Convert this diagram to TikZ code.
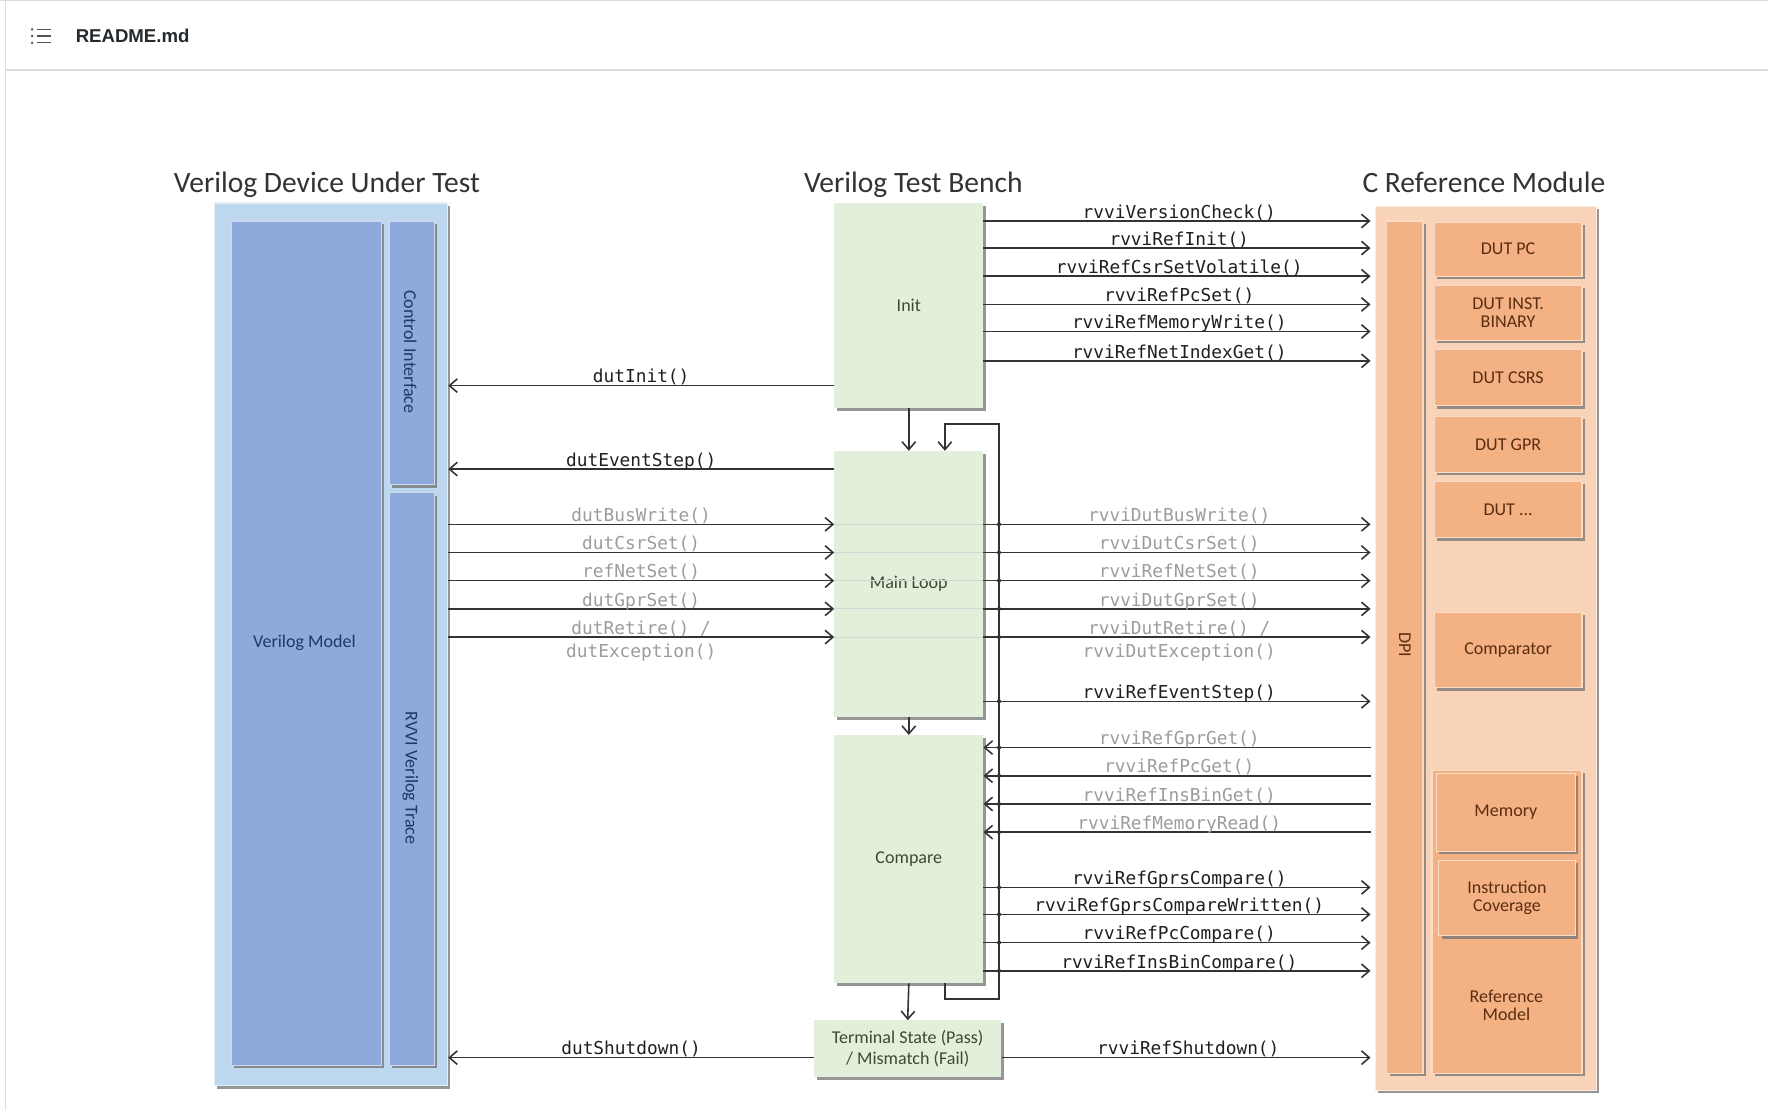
\documentclass[tikz,border=0pt]{standalone}
\usepackage{fontspec}
\setmainfont{Carlito}
\newfontfamily\fnmono{DejaVu Sans Mono}
\newfontfamily\uisans{Liberation Sans}
\usetikzlibrary{arrows.meta,shadows}

\definecolor{dutOuter}{HTML}{BDD7EE}
\definecolor{dutInner}{HTML}{8EA9DB}
\definecolor{dutText}{HTML}{1F3864}
\definecolor{tbFill}{HTML}{E2EFDA}
\definecolor{tbText}{HTML}{3B4A30}
\definecolor{refOuter}{HTML}{F9D3B7}
\definecolor{refInner}{HTML}{F4B183}
\definecolor{refText}{HTML}{5A2E10}
\definecolor{lineCol}{HTML}{333333}
\definecolor{grayLbl}{HTML}{9C9C9C}
\definecolor{titleCol}{HTML}{333333}
\definecolor{chrome}{HTML}{DADDE1}
\definecolor{hdrText}{HTML}{24292F}

\newcommand\bxfont{\fontsize{16}{19}\selectfont}
\newcommand\ttlfont{\fontsize{26.2}{30}\selectfont}
\newcommand\fnfont{\fnmono\fontsize{15.8}{18}\selectfont}
\newcommand\hdrfont{\uisans\bfseries\fontsize{16.5}{19}\selectfont}

\tikzset{
  shade box/.style={drop shadow={shadow xshift=2.5pt, shadow yshift=-2.5pt, fill=black!55, opacity=.75}},
  dutbox/.style={shade box, draw=white!55!dutInner, line width=1pt, fill=dutInner, inner sep=0pt},
  tbbox/.style={shade box, draw=none, fill=tbFill, inner sep=0pt, text=tbText, font=\bxfont, align=center},
  refbox/.style={shade box, draw=white!55!refInner, line width=1pt, fill=refInner, inner sep=0pt, text=refText, font=\bxfont, align=center},
  dutlbl/.style={text=dutText, font=\bxfont, inner sep=0pt},
  reflbl/.style={text=refText, font=\bxfont, inner sep=0pt, align=center},
  title/.style={text=titleCol, font=\ttlfont, inner sep=0pt, anchor=base},
  arr/.style={draw=lineCol, line width=1.4pt, -{Straight Barb[length=7pt,width=12pt]}},
  faint/.style={draw=black!16, line width=1pt},
  lbl/.style={font=\fnfont, inner sep=0pt, anchor=base, yshift=2.5pt, text=black!88},
  glbl/.style={lbl, text=grayLbl},
  joint/.style={fill=lineCol}
}

\begin{document}
\begin{tikzpicture}[x=1pt,y=-1pt]
\useasboundingbox (0,0) rectangle (1568,984.4);
\fill[white] (0,0) rectangle (1568,984.4);

% page header
\draw[chrome, line width=1pt] (4.5,0) -- (4.5,984.4);
\draw[chrome, line width=1pt] (0,0.8) -- (1568,0.8);
\draw[chrome, line width=1.2pt] (4.5,62) -- (1568,62);
\foreach \yy in {26,32,38} {
  \fill[hdrText!80] (28.5,\yy) circle (1.2);
  \draw[hdrText!80, line width=1.1pt] (33,\yy) -- (45,\yy);
}
\node[anchor=west, font=\hdrfont, text=hdrText, inner sep=0pt] (readme) at (67,32) {README.md};

% column titles
\node[title] (tdut) at (290,170.5) {Verilog Device Under Test};
\node[title] (ttb)  at (810,170.5) {Verilog Test Bench};
\node[title] (tref) at (1316,170.5) {C Reference Module};

% Verilog device under test
\node[shade box, draw=white!60!dutOuter, line width=1pt, fill=dutOuter, minimum width=207pt, minimum height=783pt, inner sep=0pt] (dut) at (293.5,571.5) {};
\node[dutbox, minimum width=133pt, minimum height=749pt] (vmodel) at (271.5,570.5) {};
\node[dutlbl] (vmodellbl) at (270,570) {Verilog Model};
\node[dutbox, minimum width=40pt, minimum height=234pt] (ctrl) at (365,313) {};
\node[dutlbl, rotate=-90] (ctrllbl) at (364,312) {Control Interface};
\node[dutbox, minimum width=40pt, minimum height=508pt] (trace) at (365,691) {};
\node[dutlbl, rotate=-90] (tracelbl) at (364,690) {RVVI Verilog Trace};

% test bench states
\node[tbbox, minimum width=132pt, minimum height=182pt] (init) at (806,271) {Init};
\node[tbbox, minimum width=132pt, minimum height=236pt] (mainloop) at (806,518) {Main Loop};
\node[tbbox, minimum width=132pt, minimum height=220pt] (compare) at (806,762) {Compare};
\node[tbbox, minimum width=166pt, minimum height=50pt] (term) at (805,930) {Terminal State (Pass)\\[-1pt]/ Mismatch (Fail)};

% C reference module
\node[shade box, draw=white!60!refOuter, line width=1pt, fill=refOuter, minimum width=196pt, minimum height=784pt, inner sep=0pt] (cref) at (1318,575) {};
\node[refbox, minimum width=32pt, minimum height=756pt] (dpi) at (1246,574) {};
\node[reflbl, rotate=-90] (dpilbl) at (1246,572) {DPI};
\node[refbox, minimum width=131pt, minimum height=48pt] (dutpc) at (1337.5,221) {DUT PC};
\node[refbox, minimum width=131pt, minimum height=49pt] (dutinst) at (1337.5,277.5) {DUT INST.\\[-3pt]BINARY};
\node[refbox, minimum width=131pt, minimum height=50pt] (dutcsrs) at (1337.5,335) {DUT CSRS};
\node[refbox, minimum width=131pt, minimum height=50pt] (dutgpr) at (1337.5,394) {DUT GPR};
\node[refbox, minimum width=131pt, minimum height=50pt] (dutetc) at (1337.5,452) {DUT ...};
\node[refbox, minimum width=131pt, minimum height=67pt] (comparator) at (1337.5,576.5) {Comparator};
\node[refbox, minimum width=133pt, minimum height=269pt] (refmodel) at (1336.5,817.5) {};
\node[reflbl] (refmodellbl) at (1336,892) {Reference\\[-3pt]Model};
\node[refbox, minimum width=123pt, minimum height=69pt] (memory) at (1335.5,720.5) {Memory};
\node[refbox, minimum width=121pt, minimum height=67pt] (icov) at (1336.5,796.5) {Instruction\\[-3pt]Coverage};

% state flow and main loop return path
\coordinate (loopB) at (886,886);
\coordinate (loopT) at (886,376);
\draw[arr] (init.south) -- (mainloop.north);
\draw[arr] (mainloop.south) -- (compare.north);
\draw[arr] (compare.south) -- (term.north);
\draw[arr] (compare.south -| 838,0) |- (loopB) -- (loopT) -| (mainloop.north -| 838,0);

% init calls
\draw[arr, shorten >=4pt] (init.east |- 0,196) -- (cref.west |- 0,196) node[midway, lbl] {rvviVersionCheck()};
\draw[arr, shorten >=4pt] (init.east |- 0,220) -- (cref.west |- 0,220) node[midway, lbl] {rvviRefInit()};
\draw[arr, shorten >=4pt] (init.east |- 0,245) -- (cref.west |- 0,245) node[midway, lbl] {rvviRefCsrSetVolatile()};
\draw[arr, shorten >=4pt] (init.east |- 0,270) -- (cref.west |- 0,270) node[midway, lbl] {rvviRefPcSet()};
\draw[arr, shorten >=4pt] (init.east |- 0,294) -- (cref.west |- 0,294) node[midway, lbl] {rvviRefMemoryWrite()};
\draw[arr, shorten >=4pt] (init.east |- 0,320) -- (cref.west |- 0,320) node[midway, lbl] {rvviRefNetIndexGet()};
\draw[arr] (init.west |- 0,342) -- (dut.east |- 0,342) node[midway, lbl] {dutInit()};

% main loop calls
\draw[arr] (mainloop.west |- 0,416) -- (dut.east |- 0,416) node[midway, lbl] {dutEventStep()};
\foreach \yy/\lt/\rt in {465/dutBusWrite()/rvviDutBusWrite(), 490/dutCsrSet()/rvviDutCsrSet(), 515/refNetSet()/rvviRefNetSet(), 540/dutGprSet()/rvviDutGprSet()} {
  \draw[arr] (dut.east |- 0,\yy) -- (mainloop.west |- 0,\yy) node[midway, glbl] {\lt};
  \draw[faint] (mainloop.west |- 0,\yy) -- (mainloop.east |- 0,\yy);
  \draw[arr, shorten >=4pt] (mainloop.east |- 0,\yy) -- (cref.west |- 0,\yy) node[midway, glbl] {\rt};
  \fill[joint] (loopT |- 0,\yy) circle (1.8pt);
}
\draw[arr] (dut.east |- 0,565) -- (mainloop.west |- 0,565) node[midway, glbl] (retl) {dutRetire() /};
\node[glbl, yshift=-23pt] (excl) at (retl.base) {dutException()};
\draw[faint] (mainloop.west |- 0,565) -- (mainloop.east |- 0,565);
\draw[arr, shorten >=4pt] (mainloop.east |- 0,565) -- (cref.west |- 0,565) node[midway, glbl] (retr) {rvviDutRetire() /};
\node[glbl, yshift=-23pt] (excr) at (retr.base) {rvviDutException()};
\fill[joint] (loopT |- 0,565) circle (1.8pt);
\draw[arr, shorten >=4pt] (mainloop.east |- 0,622) -- (cref.west |- 0,622) node[midway, lbl] {rvviRefEventStep()};
\fill[joint] (loopT |- 0,622) circle (1.8pt);

% compare calls
\foreach \yy/\txt in {663/rvviRefGprGet(), 688/rvviRefPcGet(), 713/rvviRefInsBinGet(), 738/rvviRefMemoryRead()} {
  \draw[arr, shorten <=4pt] (cref.west |- 0,\yy) -- (compare.east |- 0,\yy) node[midway, glbl] {\txt};
  \fill[joint] (loopT |- 0,\yy) circle (1.8pt);
}
\foreach \yy/\txt in {787/rvviRefGprsCompare(), 811/rvviRefGprsCompareWritten(), 836/rvviRefPcCompare(), 861/rvviRefInsBinCompare()} {
  \draw[arr, shorten >=4pt] (compare.east |- 0,\yy) -- (cref.west |- 0,\yy) node[midway, lbl] {\txt};
  \fill[joint] (loopT |- 0,\yy) circle (1.8pt);
}

% shutdown
\draw[arr] (term.west |- 0,938) -- (dut.east |- 0,938) node[midway, lbl] {dutShutdown()};
\draw[arr, shorten >=4pt] (term.east |- 0,938) -- (cref.west |- 0,938) node[midway, lbl] {rvviRefShutdown()};
\end{tikzpicture}
\end{document}
